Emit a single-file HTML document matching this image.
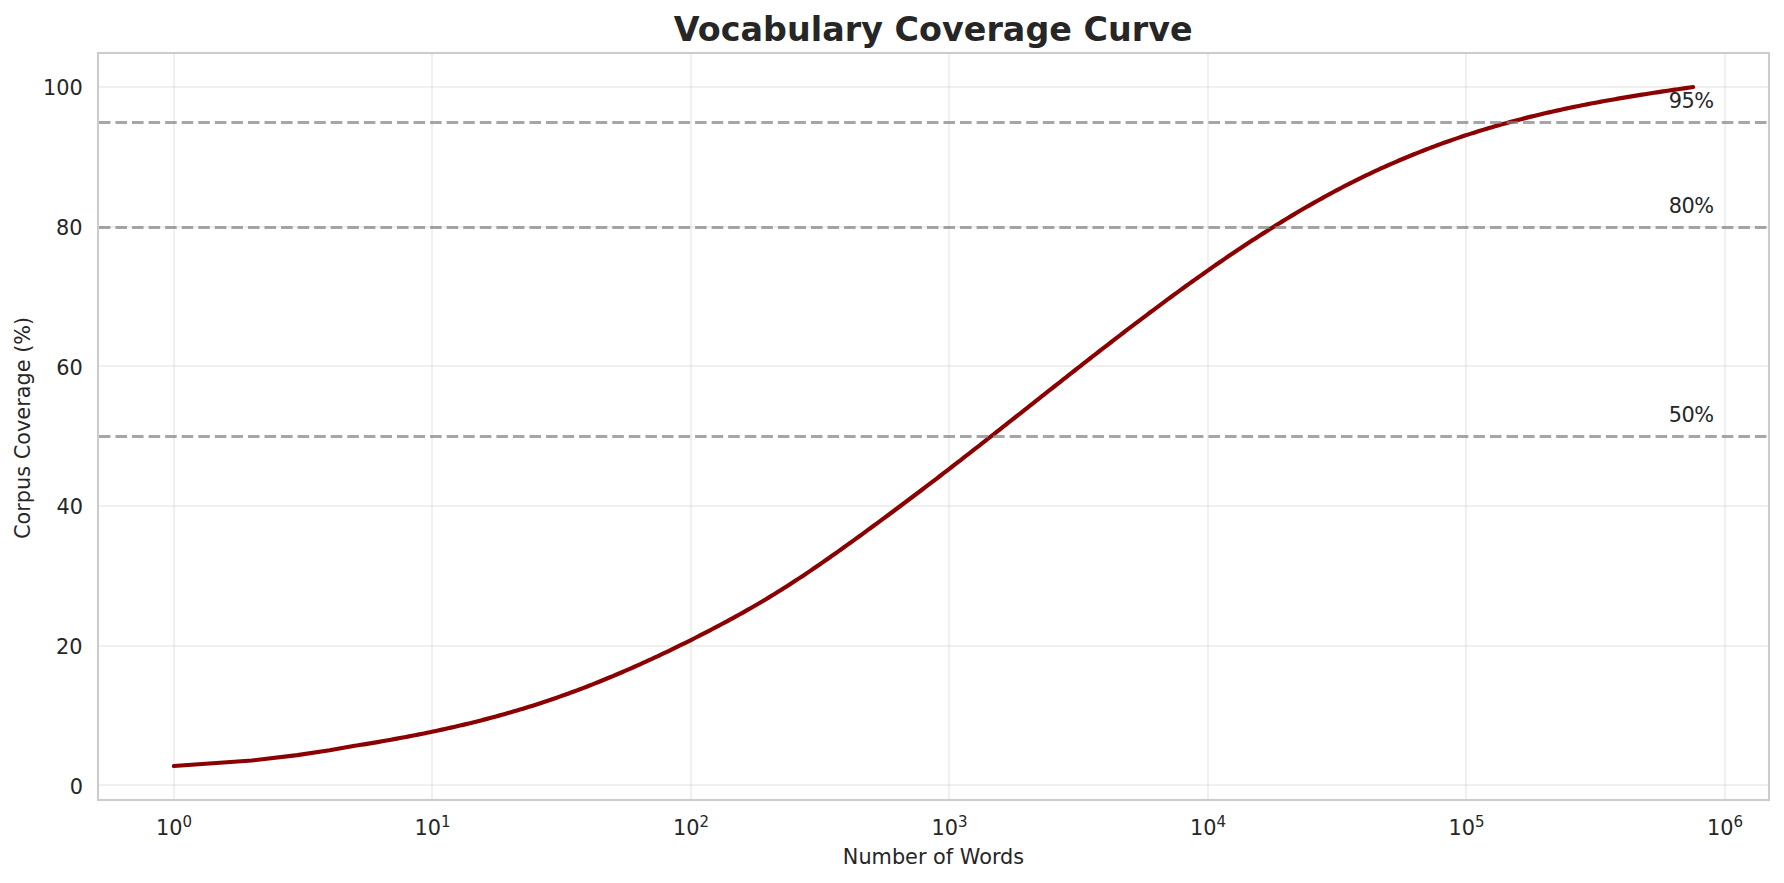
<!DOCTYPE html>
<html><head><meta charset="utf-8"><title>Vocabulary Coverage Curve</title>
<style>
html,body{margin:0;padding:0;background:#fff;overflow:hidden;}
svg{display:block;}
text{font-family:"DejaVu Sans","Liberation Sans",sans-serif;fill:#262626;}
</style></head><body>
<svg width="1784" height="883" viewBox="0 0 1784 883">
<rect width="1784" height="883" fill="#fff"/>
<g stroke="#cccccc" stroke-opacity="0.3" stroke-width="2.08" fill="none">
<line x1="174" y1="53.0" x2="174" y2="800.0"/>
<line x1="432" y1="53.0" x2="432" y2="800.0"/>
<line x1="691" y1="53.0" x2="691" y2="800.0"/>
<line x1="949" y1="53.0" x2="949" y2="800.0"/>
<line x1="1208" y1="53.0" x2="1208" y2="800.0"/>
<line x1="1466" y1="53.0" x2="1466" y2="800.0"/>
<line x1="1725" y1="53.0" x2="1725" y2="800.0"/>
<line x1="98.0" y1="785" x2="1769.0" y2="785"/>
<line x1="98.0" y1="646" x2="1769.0" y2="646"/>
<line x1="98.0" y1="506" x2="1769.0" y2="506"/>
<line x1="98.0" y1="366" x2="1769.0" y2="366"/>
<line x1="98.0" y1="227" x2="1769.0" y2="227"/>
<line x1="98.0" y1="87" x2="1769.0" y2="87"/>
</g>
<path d="M173.9,766.00 L251.8,760.50 L297.3,755.15 L329.6,750.25 L354.7,745.70 L358.0,745.29 L361.0,744.81 L364.0,744.32 L367.0,743.83 L370.0,743.34 L373.0,742.83 L376.0,742.33 L379.0,741.82 L382.0,741.30 L385.0,740.78 L388.0,740.25 L391.0,739.71 L394.0,739.17 L397.0,738.63 L400.0,738.07 L403.0,737.51 L406.0,736.95 L409.0,736.38 L412.0,735.80 L415.0,735.22 L418.0,734.62 L421.0,734.03 L424.0,733.42 L427.0,732.81 L430.0,732.19 L433.0,731.56 L436.0,730.92 L439.0,730.28 L442.0,729.63 L445.0,728.97 L448.0,728.31 L451.0,727.63 L454.0,726.95 L457.0,726.26 L460.0,725.56 L463.0,724.85 L466.0,724.13 L469.0,723.41 L472.0,722.67 L475.0,721.93 L478.0,721.17 L481.0,720.41 L484.0,719.64 L487.0,718.86 L490.0,718.06 L493.0,717.26 L496.0,716.45 L499.0,715.63 L502.0,714.80 L505.0,713.96 L508.0,713.10 L511.0,712.24 L514.0,711.37 L517.0,710.48 L520.0,709.59 L523.0,708.68 L526.0,707.76 L529.0,706.83 L532.0,705.89 L535.0,704.94 L538.0,703.97 L541.0,703.00 L544.0,702.01 L547.0,701.01 L550.0,700.00 L553.0,698.98 L556.0,697.94 L559.0,696.89 L562.0,695.83 L565.0,694.76 L568.0,693.68 L571.0,692.58 L574.0,691.47 L577.0,690.35 L580.0,689.22 L583.0,688.08 L586.0,686.93 L589.0,685.76 L592.0,684.59 L595.0,683.40 L598.0,682.20 L601.0,680.99 L604.0,679.77 L607.0,678.54 L610.0,677.30 L613.0,676.05 L616.0,674.79 L619.0,673.51 L622.0,672.23 L625.0,670.93 L628.0,669.63 L631.0,668.32 L634.0,666.99 L637.0,665.66 L640.0,664.31 L643.0,662.96 L646.0,661.59 L649.0,660.22 L652.0,658.84 L655.0,657.44 L658.0,656.04 L661.0,654.63 L664.0,653.21 L667.0,651.78 L670.0,650.34 L673.0,648.89 L676.0,647.43 L679.0,645.97 L682.0,644.49 L685.0,643.01 L688.0,641.52 L691.0,640.02 L694.0,638.51 L697.0,636.99 L700.0,635.46 L703.0,633.93 L706.0,632.39 L709.0,630.83 L712.0,629.27 L715.0,627.70 L718.0,626.12 L721.0,624.53 L724.0,622.93 L727.0,621.31 L730.0,619.69 L733.0,618.05 L736.0,616.41 L739.0,614.74 L742.0,613.07 L745.0,611.38 L748.0,609.68 L751.0,607.97 L754.0,606.24 L757.0,604.50 L760.0,602.74 L763.0,600.96 L766.0,599.17 L769.0,597.37 L772.0,595.55 L775.0,593.71 L778.0,591.85 L781.0,589.98 L784.0,588.09 L787.0,586.18 L790.0,584.25 L793.0,582.31 L796.0,580.36 L799.0,578.38 L802.0,576.40 L805.0,574.40 L808.0,572.38 L811.0,570.36 L814.0,568.31 L817.0,566.26 L820.0,564.20 L823.0,562.12 L826.0,560.03 L829.0,557.94 L832.0,555.83 L835.0,553.71 L838.0,551.59 L841.0,549.45 L844.0,547.31 L847.0,545.16 L850.0,543.01 L853.0,540.84 L856.0,538.67 L859.0,536.50 L862.0,534.32 L865.0,532.13 L868.0,529.94 L871.0,527.75 L874.0,525.55 L877.0,523.34 L880.0,521.13 L883.0,518.92 L886.0,516.70 L889.0,514.48 L892.0,512.25 L895.0,510.02 L898.0,507.78 L901.0,505.54 L904.0,503.29 L907.0,501.04 L910.0,498.78 L913.0,496.52 L916.0,494.26 L919.0,491.99 L922.0,489.72 L925.0,487.44 L928.0,485.16 L931.0,482.87 L934.0,480.58 L937.0,478.29 L940.0,475.99 L943.0,473.69 L946.0,471.38 L949.0,469.07 L952.0,466.76 L955.0,464.44 L958.0,462.12 L961.0,459.80 L964.0,457.47 L967.0,455.14 L970.0,452.80 L973.0,450.46 L976.0,448.12 L979.0,445.78 L982.0,443.43 L985.0,441.08 L988.0,438.73 L991.0,436.38 L994.0,434.03 L997.0,431.67 L1000.0,429.31 L1003.0,426.95 L1006.0,424.59 L1009.0,422.23 L1012.0,419.86 L1015.0,417.50 L1018.0,415.13 L1021.0,412.77 L1024.0,410.40 L1027.0,408.04 L1030.0,405.67 L1033.0,403.30 L1036.0,400.93 L1039.0,398.57 L1042.0,396.20 L1045.0,393.84 L1048.0,391.47 L1051.0,389.11 L1054.0,386.74 L1057.0,384.38 L1060.0,382.02 L1063.0,379.66 L1066.0,377.30 L1069.0,374.95 L1072.0,372.59 L1075.0,370.24 L1078.0,367.89 L1081.0,365.54 L1084.0,363.20 L1087.0,360.85 L1090.0,358.51 L1093.0,356.18 L1096.0,353.84 L1099.0,351.51 L1102.0,349.18 L1105.0,346.86 L1108.0,344.54 L1111.0,342.23 L1114.0,339.91 L1117.0,337.61 L1120.0,335.30 L1123.0,333.00 L1126.0,330.71 L1129.0,328.42 L1132.0,326.14 L1135.0,323.86 L1138.0,321.58 L1141.0,319.32 L1144.0,317.05 L1147.0,314.80 L1150.0,312.54 L1153.0,310.30 L1156.0,308.06 L1159.0,305.83 L1162.0,303.60 L1165.0,301.38 L1168.0,299.17 L1171.0,296.96 L1174.0,294.77 L1177.0,292.58 L1180.0,290.39 L1183.0,288.22 L1186.0,286.05 L1189.0,283.89 L1192.0,281.73 L1195.0,279.59 L1198.0,277.45 L1201.0,275.33 L1204.0,273.21 L1207.0,271.10 L1210.0,269.00 L1213.0,266.91 L1216.0,264.82 L1219.0,262.75 L1222.0,260.69 L1225.0,258.63 L1228.0,256.59 L1231.0,254.55 L1234.0,252.53 L1237.0,250.52 L1240.0,248.51 L1243.0,246.52 L1246.0,244.54 L1249.0,242.56 L1252.0,240.60 L1255.0,238.65 L1258.0,236.71 L1261.0,234.79 L1264.0,232.87 L1267.0,230.96 L1270.0,229.07 L1273.0,227.19 L1276.0,225.32 L1279.0,223.46 L1282.0,221.62 L1285.0,219.79 L1288.0,217.97 L1291.0,216.16 L1294.0,214.36 L1297.0,212.58 L1300.0,210.81 L1303.0,209.06 L1306.0,207.32 L1309.0,205.59 L1312.0,203.87 L1315.0,202.17 L1318.0,200.48 L1321.0,198.81 L1324.0,197.15 L1327.0,195.50 L1330.0,193.87 L1333.0,192.26 L1336.0,190.66 L1339.0,189.07 L1342.0,187.50 L1345.0,185.94 L1348.0,184.40 L1351.0,182.87 L1354.0,181.36 L1357.0,179.87 L1360.0,178.39 L1363.0,176.93 L1366.0,175.48 L1369.0,174.04 L1372.0,172.62 L1375.0,171.22 L1378.0,169.83 L1381.0,168.45 L1384.0,167.09 L1387.0,165.75 L1390.0,164.41 L1393.0,163.10 L1396.0,161.80 L1399.0,160.51 L1402.0,159.23 L1405.0,157.97 L1408.0,156.73 L1411.0,155.49 L1414.0,154.27 L1417.0,153.07 L1420.0,151.88 L1423.0,150.70 L1426.0,149.54 L1429.0,148.39 L1432.0,147.25 L1435.0,146.12 L1438.0,145.01 L1441.0,143.91 L1444.0,142.83 L1447.0,141.76 L1450.0,140.70 L1453.0,139.65 L1456.0,138.62 L1459.0,137.60 L1462.0,136.59 L1465.0,135.59 L1468.0,134.61 L1471.0,133.64 L1474.0,132.68 L1477.0,131.73 L1480.0,130.79 L1483.0,129.87 L1486.0,128.96 L1489.0,128.06 L1492.0,127.17 L1495.0,126.29 L1498.0,125.43 L1501.0,124.57 L1504.0,123.73 L1507.0,122.90 L1510.0,122.08 L1513.0,121.27 L1516.0,120.47 L1519.0,119.68 L1522.0,118.91 L1525.0,118.14 L1528.0,117.38 L1531.0,116.64 L1534.0,115.90 L1537.0,115.17 L1540.0,114.45 L1543.0,113.75 L1546.0,113.05 L1549.0,112.36 L1552.0,111.67 L1555.0,111.00 L1558.0,110.34 L1561.0,109.68 L1564.0,109.04 L1567.0,108.40 L1570.0,107.77 L1573.0,107.15 L1576.0,106.53 L1579.0,105.92 L1582.0,105.32 L1585.0,104.73 L1588.0,104.15 L1591.0,103.57 L1594.0,103.00 L1597.0,102.43 L1600.0,101.88 L1603.0,101.32 L1606.0,100.78 L1609.0,100.24 L1612.0,99.71 L1615.0,99.18 L1618.0,98.66 L1621.0,98.14 L1624.0,97.63 L1627.0,97.13 L1630.0,96.63 L1633.0,96.13 L1636.0,95.64 L1639.0,95.16 L1642.0,94.68 L1645.0,94.20 L1648.0,93.73 L1651.0,93.26 L1654.0,92.80 L1657.0,92.34 L1660.0,91.88 L1663.0,91.43 L1666.0,90.98 L1669.0,90.53 L1672.0,90.09 L1675.0,89.65 L1678.0,89.21 L1681.0,88.77 L1684.0,88.34 L1687.0,87.91 L1690.0,87.48 L1693.1,87.00" fill="none" stroke="#8b0000" stroke-width="4.17" stroke-linecap="round" stroke-linejoin="round"/>
<g stroke="#808080" stroke-opacity="0.7" stroke-width="3.125" stroke-dasharray="11.56 5" stroke-dashoffset="-0.9" fill="none">
<line x1="98.0" y1="436.5" x2="1769.0" y2="436.5"/>
<line x1="98.0" y1="227.5" x2="1769.0" y2="227.5"/>
<line x1="98.0" y1="122.5" x2="1769.0" y2="122.5"/>
</g>
<rect x="98.0" y="53.0" width="1671.0" height="747.0" fill="none" stroke="#cccccc" stroke-width="2.08"/>
<text x="1668.8" y="422.04" font-size="20.833" textLength="45.3" lengthAdjust="spacing">50%</text>
<text x="1668.8" y="212.64" font-size="20.833" textLength="45.3" lengthAdjust="spacing">80%</text>
<text x="1668.8" y="107.94" font-size="20.833" textLength="45.3" lengthAdjust="spacing">95%</text>
<text x="83.0" y="793.6" font-size="20.833" text-anchor="end">0</text>
<text x="82.6" y="654.0" font-size="20.833" text-anchor="end">20</text>
<text x="83.1" y="514.4" font-size="20.833" text-anchor="end">40</text>
<text x="82.7" y="374.8" font-size="20.833" text-anchor="end">60</text>
<text x="82.5" y="235.2" font-size="20.833" text-anchor="end">80</text>
<text x="82.8" y="94.6" font-size="20.833" text-anchor="end">100</text>
<text x="156.10" y="835" font-size="20.833">10<tspan font-size="15" dy="-8.5">0</tspan></text>
<text x="414.60" y="835" font-size="20.833">10<tspan font-size="15" dy="-8.5">1</tspan></text>
<text x="673.10" y="835" font-size="20.833">10<tspan font-size="15" dy="-8.5">2</tspan></text>
<text x="931.60" y="835" font-size="20.833">10<tspan font-size="15" dy="-8.5">3</tspan></text>
<text x="1190.10" y="835" font-size="20.833">10<tspan font-size="15" dy="-8.5">4</tspan></text>
<text x="1448.60" y="835" font-size="20.833">10<tspan font-size="15" dy="-8.5">5</tspan></text>
<text x="1707.10" y="835" font-size="20.833">10<tspan font-size="15" dy="-8.5">6</tspan></text>
<text x="933.5" y="864" font-size="20.833" text-anchor="middle">Number of Words</text>
<text transform="translate(30,427.9) rotate(-90)" font-size="20.833" text-anchor="middle">Corpus Coverage (%)</text>
<text x="933.2" y="40.7" font-size="33.333" font-weight="bold" text-anchor="middle" textLength="518.9" lengthAdjust="spacing">Vocabulary Coverage Curve</text>
</svg></body></html>
